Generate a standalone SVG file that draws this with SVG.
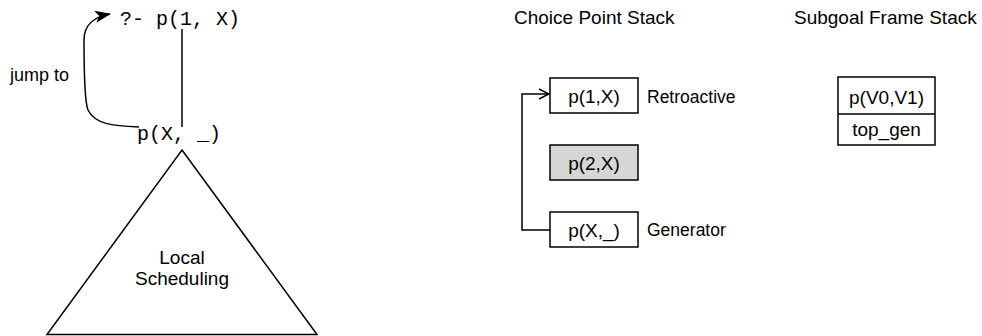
<svg xmlns="http://www.w3.org/2000/svg" width="982" height="336" viewBox="0 0 982 336">
<style>
.s{font-family:"Liberation Sans",Arial,sans-serif;font-size:19px;fill:#000}
.m{font-family:"Liberation Mono","Courier New",monospace;font-size:20px;fill:#000}
.ln{fill:none;stroke:#000;stroke-width:1.5}
.bx{fill:#fff;stroke:#000;stroke-width:1.5}
</style>
<defs>
<marker id="fa" viewBox="0 0 16 12" refX="15" refY="6" markerWidth="16" markerHeight="12" markerUnits="userSpaceOnUse" orient="auto">
<path d="M0,0 L16,6 L0,12 L4,6 Z" fill="#000"/>
</marker>
<marker id="oa" viewBox="0 0 12 12" refX="11" refY="6" markerWidth="12" markerHeight="12" markerUnits="userSpaceOnUse" orient="auto">
<path d="M1,1 L11,6 L1,11" fill="none" stroke="#000" stroke-width="1.5"/>
</marker>
</defs>
<g id="query">
<text class="m" x="120" y="25">?- p(1, X)</text>
</g>
<g id="generator-goal">
<text class="m" x="137" y="140">p(X, _)</text>
</g>
<g id="local-scheduling">
<polygon class="ln" points="182,150 317,334.5 47,334.5"/>
<text class="s" x="182" y="264" text-anchor="middle">Local</text>
<text class="s" x="182" y="285" text-anchor="middle">Scheduling</text>
</g>
<g id="choice-point-stack">
<text class="s" x="514" y="24">Choice Point Stack</text>
<g id="cp1"><rect class="bx" x="550" y="78" width="88" height="35"/><text class="s" x="594" y="103" text-anchor="middle">p(1,X)</text></g>
<g id="cp2"><rect class="bx" x="550" y="145" width="88" height="35" style="fill:#d6d6d6"/><text class="s" x="594" y="170" text-anchor="middle">p(2,X)</text></g>
<g id="cp3"><rect class="bx" x="550" y="212" width="88" height="35"/><text class="s" x="594" y="237" text-anchor="middle">p(X,_)</text></g>
<text class="s" x="647" y="103" style="font-size:17.5px">Retroactive</text>
<text class="s" x="647" y="236" style="font-size:17.5px">Generator</text>
</g>
<g id="subgoal-frame-stack">
<text class="s" x="794" y="24">Subgoal Frame Stack</text>
<rect class="bx" x="838" y="77" width="97" height="68"/>
<line class="ln" x1="838" y1="114" x2="935" y2="114"/>
<text class="s" x="886.5" y="104" text-anchor="middle">p(V0,V1)</text>
<text class="s" x="886.5" y="136" text-anchor="middle">top_gen</text>
</g>
<g id="connectors">
<line class="ln" x1="182" y1="29" x2="182" y2="127"/>
<path class="ln" d="M139,127 C112,126 95,124 88,110 C84,100 84,60 84,40 C84,24 94,17 110,14" marker-end="url(#fa)"/>
<text class="s" x="10" y="81" style="font-size:18px">jump to</text>
<path class="ln" d="M550,230 L522,230 L522,94 L549,94" marker-end="url(#oa)"/>
</g>
</svg>
